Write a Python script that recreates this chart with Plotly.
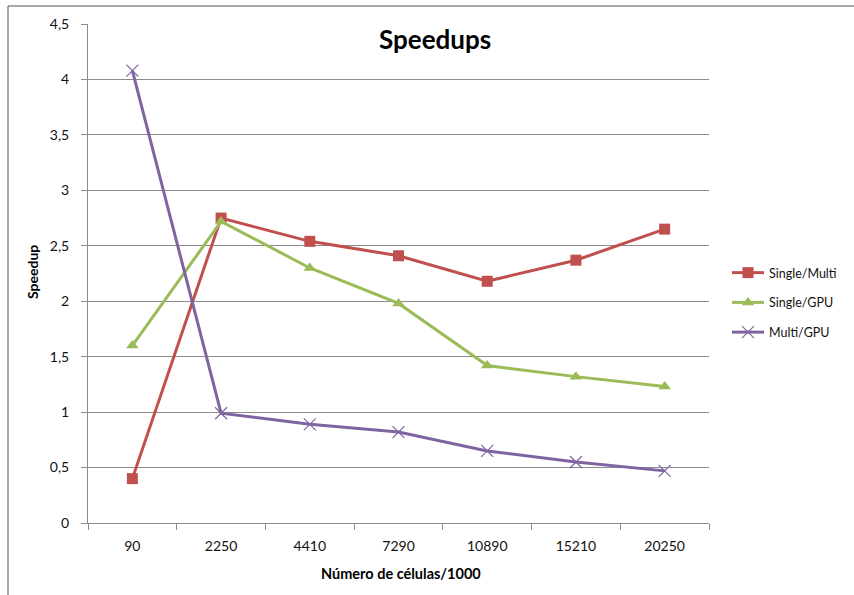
import plotly.graph_objects as go

# Problem sizes (number of cells / 1000)
categories = ["90", "2250", "4410", "7290", "10890", "15210", "20250"]

# Speedup ratios per configuration
single_multi = [0.40, 2.75, 2.54, 2.41, 2.18, 2.37, 2.65]
single_gpu = [1.60, 2.72, 2.30, 1.98, 1.42, 1.32, 1.23]
multi_gpu = [4.08, 0.99, 0.89, 0.82, 0.65, 0.55, 0.47]

y_tick_vals = [0, 0.5, 1, 1.5, 2, 2.5, 3, 3.5, 4, 4.5]
y_tick_text = ["0", "0,5", "1", "1,5", "2", "2,5", "3", "3,5", "4", "4,5"]

RED = "#C0504D"
GREEN = "#9BBB59"
PURPLE = "#8064A2"
GRID = "#8C8C8C"
FONT = "Lato, 'Open Sans', sans-serif"

fig = go.Figure()

fig.add_trace(go.Scatter(
    x=categories, y=single_multi, name="Single/Multi", mode="lines+markers",
    line=dict(color=RED, width=3),
    marker=dict(symbol="square", size=11, color=RED),
    legendgroup="a",
))
fig.add_trace(go.Scatter(
    x=categories, y=single_gpu, name="Single/GPU", mode="lines+markers",
    line=dict(color=GREEN, width=3),
    marker=dict(symbol="triangle-up", size=11, color=GREEN),
    legendgroup="b",
))
fig.add_trace(go.Scatter(
    x=categories, y=multi_gpu, name="Multi/GPU", mode="lines+markers",
    line=dict(color=PURPLE, width=3),
    marker=dict(symbol="x-thin", size=12, color=PURPLE,
                line=dict(color=PURPLE, width=1.2)),
    legendgroup="c",
))

L, R, T, B = 88, 145, 24, 72
W, H = 854, 595
pw, ph = W - L - R, H - T - B


def px_x(x):
    return (x - L) / pw


def px_y(y):
    return (H - B - y) / ph


fig.update_layout(
    width=W, height=H,
    margin=dict(l=L, r=R, t=T, b=B, pad=0),
    paper_bgcolor="white", plot_bgcolor="white",
    font=dict(family=FONT, size=14, color="#111"),
    showlegend=True,
    legend=dict(
        x=px_x(727), y=px_y(258), xanchor="left", yanchor="top",
        font=dict(family=FONT, size=12.5, color="#111"),
        tracegroupgap=10.5,
        itemwidth=32,
        bgcolor="rgba(0,0,0,0)",
    ),
    annotations=[
        dict(text="<b>Speedups</b>", x=px_x(435), y=px_y(39),
             xref="paper", yref="paper", showarrow=False,
             font=dict(family=FONT, size=26, color="#000"),
             xanchor="center", yanchor="middle"),
        dict(text="<b>Speedup</b>", x=px_x(32), y=px_y(272),
             xref="paper", yref="paper", showarrow=False, textangle=-90,
             font=dict(family=FONT, size=14, color="#000"),
             xanchor="center", yanchor="middle"),
        dict(text="<b>Número de células/1000</b>", x=px_x(401), y=px_y(573),
             xref="paper", yref="paper", showarrow=False,
             font=dict(family=FONT, size=14.5, color="#000"),
             xanchor="center", yanchor="middle"),
    ],
    shapes=[
        # chart frame (top and left edges)
        dict(type="line", xref="paper", yref="paper",
             x0=px_x(8), x1=px_x(W + 5), y0=px_y(6), y1=px_y(6),
             line=dict(color="#8A8A8A", width=1.5)),
        dict(type="line", xref="paper", yref="paper",
             x0=px_x(8), x1=px_x(8), y0=px_y(6), y1=px_y(H + 5),
             line=dict(color="#8A8A8A", width=1.5)),
    ],
)

fig.update_xaxes(
    type="category", categoryorder="array", categoryarray=categories,
    showline=True, linecolor=GRID, linewidth=1,
    showgrid=False, zeroline=False,
    ticks="outside", tickson="boundaries", ticklen=6, tickcolor=GRID,
    ticklabelstandoff=10,
    tickfont=dict(family=FONT, size=14, color="#111"),
    range=[-0.5, len(categories) - 0.5],
)
fig.update_yaxes(
    range=[0, 4.5], tickvals=y_tick_vals, ticktext=y_tick_text,
    showline=True, linecolor=GRID, linewidth=1,
    showgrid=True, gridcolor=GRID, gridwidth=1, zeroline=False,
    ticks="outside", ticklen=6, tickcolor=GRID,
    ticklabelstandoff=9,
    tickfont=dict(family=FONT, size=14, color="#111"),
)

fig.write_html("out.html")
